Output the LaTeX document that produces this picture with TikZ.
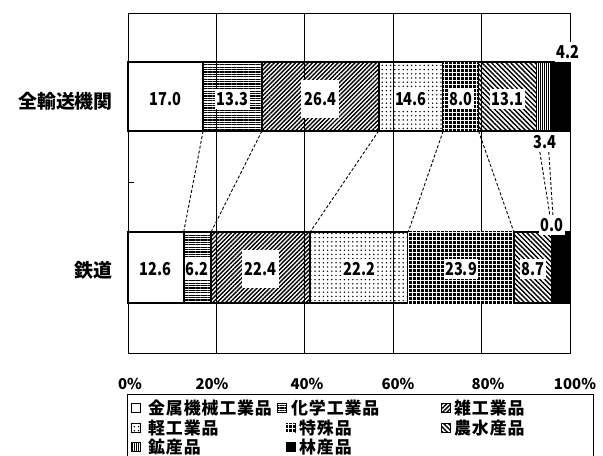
\documentclass[tikz,border=0pt]{standalone}
\usepackage{fontspec}
\setmainfont{Noto Sans CJK JP}
\newfontfamily\legfont{Noto Sans CJK JP}[LetterSpace=5]
\usetikzlibrary{patterns.meta}

\tikzset{
  seg/.style={draw=black, line width=1.8bp},
  conn/.style={line width=0.9bp, dash pattern=on 3bp off 2bp},
  val/.style={fill=white, inner xsep=1.5bp, inner ysep=3bp, xscale=0.86, yscale=1.05,
    font=\fontsize{17}{17}\selectfont\bfseries},
  bigval/.style={val, inner xsep=3.5bp, inner ysep=12bp},
  cat/.style={anchor=east, inner sep=0pt, font=\fontsize{19}{19}\selectfont\bfseries},
  pct/.style={inner sep=0pt, font=\fontsize{15}{15}\selectfont\bfseries},
  leg/.style={anchor=west, inner sep=0pt, font=\legfont\fontsize{17}{17}\selectfont\bfseries},
  icon/.style={draw=black, line width=1bp},
  kinzoku/.style={fill=white},
  kagaku/.style={pattern={Lines[angle=0,distance=2.4bp,line width=1.2bp]}},
  zatsu/.style={pattern={Lines[angle=45,distance=3bp,line width=1.4bp]}},
  kei/.style={pattern={Dots[radius=0.8bp,distance=4.2bp]}},
  tokushu/.style={fill=black,
    postaction={pattern={Lines[angle=0,distance=4bp,line width=0.8bp]}, pattern color=white},
    postaction={pattern={Lines[angle=90,distance=4bp,line width=0.8bp]}, pattern color=white}},
  nousui/.style={pattern={Lines[angle=-45,distance=3.4bp,line width=1.4bp]}},
  kou/.style={pattern={Lines[angle=90,distance=2bp,line width=1bp]}},
  rin/.style={fill=black}
}

\begin{document}
\begin{tikzpicture}[x=1bp,y=-1bp]
  \useasboundingbox (0,0) rectangle (603,456);
  % frame and grid
  \draw[line width=0.9bp] (128,13) rectangle (570,353);
  \draw[line width=0.9bp] (216.4,13) -- (216.4,353) (304.8,13) -- (304.8,353)
     (393.2,13) -- (393.2,353) (481.6,13) -- (481.6,353);
  \draw[line width=0.9bp] (128,182) -- (134,182);

  \node[cat] (all) at (113,101) {全輸送機関};
  \node[cat] (rail) at (113,270) {鉄道};

\begin{scope}[xshift=128bp, x=4.42bp]
  % 全輸送機関
  \draw[seg,kinzoku] (0,62) rectangle (17,131);
  \draw[seg,kagaku] (17,62) rectangle (30.3,131);
  \draw[seg,zatsu] (30.3,62) rectangle (56.7,131);
  \draw[seg,kei] (56.7,62) rectangle (71.3,131);
  \draw[seg,tokushu] (71.3,62) rectangle (79.3,131);
  \draw[seg,nousui] (79.3,62) rectangle (92.4,131);
  \draw[seg,kou] (92.4,62) rectangle (95.8,131);
  \draw[seg,rin] (95.8,62) rectangle (100,131);
  % 鉄道
  \draw[seg,kinzoku] (0,232) rectangle (12.6,303);
  \draw[seg,kagaku] (12.6,232) rectangle (18.8,303);
  \draw[seg,zatsu] (18.8,232) rectangle (41.2,303);
  \draw[seg,kei] (41.2,232) rectangle (63.4,303);
  \draw[seg,tokushu] (63.4,232) rectangle (87.3,303);
  \draw[seg,nousui] (87.3,232) rectangle (96,303);
  \draw[seg,rin] (96,232) rectangle (100,303);

  \coordinate (t1) at (17,131);   \coordinate (b1) at (12.6,232);
  \coordinate (t2) at (30.3,131); \coordinate (b2) at (18.8,232);
  \coordinate (t3) at (56.7,131); \coordinate (b3) at (41.2,232);
  \coordinate (t4) at (71.3,131); \coordinate (b4) at (63.4,232);
  \coordinate (t5) at (79.3,131); \coordinate (b5) at (87.3,232);
  \draw[conn] (t1) -- (b1) (t2) -- (b2) (t3) -- (b3) (t4) -- (b4) (t5) -- (b5);

  \node[val] (a1) at (8.5,99) {17.0};
  \node[val] (a2) at (23.65,99) {13.3};
  \node[bigval] (a3) at (43.5,99) {26.4};
  \node[val] (a4) at (64,99) {14.6};
  \node[val] (a5) at (75.3,99) {8.0};
  \node[val] (a6) at (85.85,99) {13.1};
  \node[val] (a8) at (99.5,52) {4.2};
  \node[val] (a7) at (94.3,142) {3.4};

  \node[val] (r1) at (6.3,269) {12.6};
  \node[val] (r2) at (15.7,269) {6.2};
  \node[bigval] (r3) at (30,269) {22.4};
  \node[val] (r4) at (52.3,269) {22.2};
  \node[val] (r5) at (75.35,269) {23.9};
  \node[val] (r6) at (91.65,269) {8.7};
  \node[val] (r7) at (95.9,225) {0.0};

  \draw[conn] ([xshift=-5bp]a7.south) -- ([xshift=-2bp]r7.north);
  \draw[conn] ([xshift=4bp]a7.south) -- ([xshift=1bp]r7.north);
\end{scope}

  % axis
  \node[pct] (p0) at (130,384) {0\%};
  \node[pct] (p20) at (212,384) {20\%};
  \node[pct] (p40) at (307,384) {40\%};
  \node[pct] (p60) at (398,384) {60\%};
  \node[pct] (p80) at (488,384) {80\%};
  \node[pct] (p100) at (575,384) {100\%};

  % legend
  \draw[line width=0.9bp] (127,456) -- (127,394) -- (593,394) -- (593,456);
  \draw[icon,kinzoku] (131,403) rectangle (140,412);
  \draw[icon,kagaku] (277,403) rectangle (286,412);
  \draw[icon,zatsu] (441,403) rectangle (450,412);
  \draw[icon,kei] (131,423) rectangle (140,432);
  \draw[icon,tokushu] (286,423) rectangle (295,432);
  \draw[icon,nousui] (441,423) rectangle (450,432);
  \draw[icon,kou] (131,442) rectangle (140,451);
  \draw[icon,rin] (286,442) rectangle (295,451);
  \node[leg] (l1) at (148,408) {金属機械工業品};
  \node[leg] (l2) at (291,408) {化学工業品};
  \node[leg] (l3) at (454,408) {雑工業品};
  \node[leg] (l4) at (148,428) {軽工業品};
  \node[leg] (l5) at (299,428) {特殊品};
  \node[leg] (l6) at (454,428) {農水産品};
  \node[leg] (l7) at (148,447) {鉱産品};
  \node[leg] (l8) at (299,447) {林産品};
\end{tikzpicture}
\end{document}
